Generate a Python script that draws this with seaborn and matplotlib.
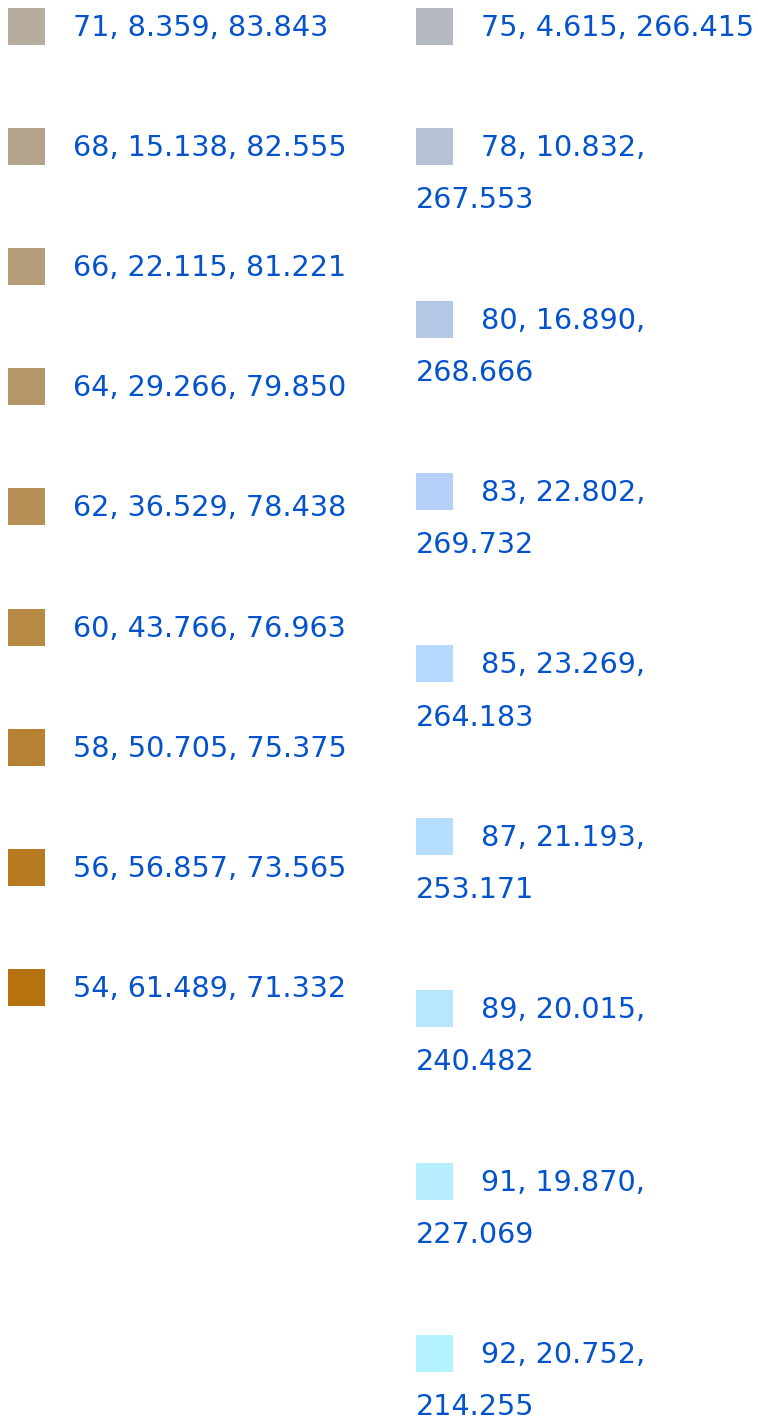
import numpy as np
import matplotlib
matplotlib.use("Agg")
import matplotlib.pyplot as plt
import seaborn as sns

# LCh colour values (L, C, h)
left_L = [71, 68, 66, 64, 62, 60, 58, 56, 54]
left_C = [8.359, 15.138, 22.115, 29.266, 36.529, 43.766, 50.705, 56.857, 61.489]
left_h = [83.843, 82.555, 81.221, 79.850, 78.438, 76.963, 75.375, 73.565, 71.332]

right_L = [75, 78, 80, 83, 85, 87, 89, 91, 92]
right_C = [4.615, 10.832, 16.890, 22.802, 23.269, 21.193, 20.015, 19.870, 20.752]
right_h = [266.415, 267.553, 268.666, 269.732, 264.183, 253.171, 240.482, 227.069, 214.255]

TEXT_COLOR = "#0452cc"


def lch_to_hex(L, C, h):
    a = C * np.cos(np.radians(h))
    b = C * np.sin(np.radians(h))
    fy = (L + 16) / 116
    fx = fy + a / 500
    fz = fy - b / 200
    eps = 216 / 24389
    kappa = 24389 / 27

    def finv(t):
        t3 = t ** 3
        return t3 if t3 > eps else (116 * t - 16) / kappa

    X = 0.95047 * finv(fx)
    Y = 1.0 * (fy ** 3 if L > kappa * eps else L / kappa)
    Z = 1.08883 * finv(fz)
    M = np.array([[3.2404542, -1.5371385, -0.4985314],
                  [-0.9692660, 1.8760108, 0.0415560],
                  [0.0556434, -0.2040259, 1.0572252]])
    rgb = M @ np.array([X, Y, Z])

    def gam(c):
        c = min(max(c, 0), 1)
        return 12.92 * c if c <= 0.0031308 else 1.055 * c ** (1 / 2.4) - 0.055

    r, g, bb = (gam(c) for c in rgb)
    return "#{:02x}{:02x}{:02x}".format(round(r * 255), round(g * 255), round(bb * 255))


def fmt(L, C, h):
    return f"{L}, {C:.3f}, {h:.3f}"


sns.set_theme(style="white")
plt.rcParams['font.family'] = ['DejaVu Sans']

W, H = 758, 1419
fig = plt.figure(figsize=(W / 100, H / 100), dpi=100)
ax = fig.add_axes([0, 0, 1, 1])
ax.set_xlim(0, W)
ax.set_ylim(H, 0)
ax.axis("off")

FS = 20.6
SW = 37
ROW = 120.1
LINE = 52.3
renderer = fig.canvas.get_renderer()


def text_width(s):
    t = ax.text(0, 0, s, fontsize=FS)
    w = t.get_window_extent(renderer=renderer).width
    t.remove()
    return w


def draw_column(Ls, Cs, hs, x0, text_x, max_x):
    tops = []
    lines_list = []
    y = 8
    for L, C, h in zip(Ls, Cs, hs):
        s = fmt(L, C, h)
        if text_x + text_width(s) > max_x:
            head, tail = s.rsplit(" ", 1)
            lines = [head, tail]
        else:
            lines = [s]
        tops.append(y)
        lines_list.append(lines)
        y += ROW + LINE * (len(lines) - 1)
    colors = [lch_to_hex(L, C, h) for L, C, h in zip(Ls, Cs, hs)]
    ax.bar([x0] * len(tops), [SW] * len(tops), width=SW, bottom=tops,
           align="edge", color=colors, linewidth=0)
    for top, lines in zip(tops, lines_list):
        base = top + 28
        ax.text(text_x, base, lines[0], fontsize=FS, color=TEXT_COLOR, va="baseline", ha="left")
        for k, ln in enumerate(lines[1:], start=1):
            ax.text(x0, base + LINE * k, ln, fontsize=FS, color=TEXT_COLOR, va="baseline", ha="left")


draw_column(left_L, left_C, left_h, 8, 73, 400)
draw_column(right_L, right_C, right_h, 416, 481, W)

fig.savefig("out.png", dpi=100)
